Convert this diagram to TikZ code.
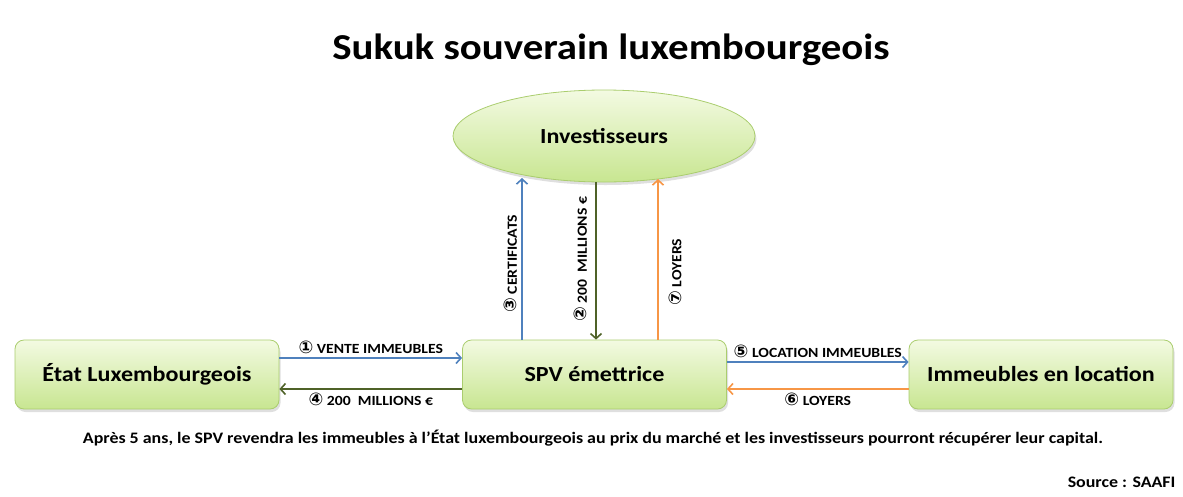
\documentclass[tikz,border=0pt]{standalone}
\usepackage{fontspec}
\setmainfont{Carlito}[FakeStretch=1.12]
\newfontfamily\symfont{DejaVu Sans}[Scale=1.25]
\usetikzlibrary{shapes.geometric,shadows,arrows.meta}
\definecolor{boxline}{RGB}{170,205,110}
\definecolor{boxtop}{RGB}{243,250,226}
\definecolor{boxbot}{RGB}{200,230,145}
\definecolor{flowblue}{RGB}{79,129,189}
\definecolor{flowolive}{RGB}{79,98,40}
\definecolor{floworange}{RGB}{247,150,70}
\tikzset{
	% Two node styles for the parties: rounded box and ellipse
	party box/.style={rectangle,rounded corners=9pt,draw=boxline,line width=0.8pt,
		top color=boxtop,bottom color=boxbot,minimum width=264pt,minimum height=69pt,
		drop shadow={shadow xshift=1.5pt,shadow yshift=-3pt,opacity=0.25},
		font=\fontsize{21.5}{26}\selectfont\bfseries},
	party ellipse/.style={ellipse,draw=boxline,line width=0.8pt,
		top color=boxtop,bottom color=boxbot,minimum width=302pt,minimum height=92pt,
		drop shadow={shadow xshift=1.5pt,shadow yshift=-3pt,opacity=0.25},
		font=\fontsize{21.5}{26}\selectfont\bfseries},
	flow/.style={-{Straight Barb[length=5pt,width=11pt]},line width=1.6pt},
	flow label/.style={font=\fontsize{14}{16}\selectfont\bfseries,inner sep=3pt}
}
\begin{document}
\begin{tikzpicture}[x=1pt,y=-1pt]
			% macro for the circled step numbers
			\newcommand{\stepnum}[1]{{\symfont #1}}
			\useasboundingbox (0,0) rectangle (1183,496);

			\node(title)[font=\fontsize{36.5}{40}\selectfont\bfseries] at (611,50) {Sukuk souverain luxembourgeois};

			\node(inv)[party ellipse] at (604,136) {Investisseurs};
			\node(etat)[party box] at (147,374.5) {État Luxembourgeois};
			\node(spv)[party box] at (594.5,374.5) {SPV émettrice};
			\node(imm)[party box] at (1041,374.5) {Immeubles en location};

			% ends of the vertical flows on the ellipse
			\coordinate(c3) at (522,178);
			\coordinate(c2) at (596,182);
			\coordinate(c7) at (658,179);

			\draw[flow,flowblue] ([yshift=16.5pt]etat.east) -- ([yshift=16.5pt]spv.west)
				node[midway,above,flow label,text=black]{\stepnum{①} VENTE IMMEUBLES};
			\draw[flow,flowolive] ([yshift=-14.5pt]spv.west) -- ([yshift=-14.5pt]etat.east)
				node[midway,below,flow label,text=black]{\stepnum{④} 200\ \ MILLIONS €};
			\draw[flow,flowblue] ([yshift=12.5pt]spv.east) -- ([yshift=12.5pt]imm.west)
				node[midway,above,flow label,text=black]{\stepnum{⑤} LOCATION IMMEUBLES};
			\draw[flow,floworange] ([yshift=-14.5pt]imm.west) -- ([yshift=-14.5pt]spv.east)
				node[midway,below,flow label,text=black]{\stepnum{⑥} LOYERS};

			\draw[flow,flowblue] (spv.north -| c3) -- (c3)
				node[pos=0.47,above,sloped,flow label,text=black,inner sep=4pt]{\stepnum{③} CERTIFICATS};
			\draw[flow,flowolive] (c2) -- (spv.north -| c2)
				node[pos=0.49,above,rotate=90,flow label,text=black,anchor=south,inner sep=8pt]{\stepnum{②} 200\ \ MILLIONS €};
			\draw[flow,floworange] (spv.north -| c7) -- (c7)
				node[pos=0.42,below,sloped,flow label,text=black,inner sep=10pt]{\stepnum{⑦} LOYERS};

			\node(note)[font=\fontsize{16}{19}\selectfont\bfseries] at (593,438)
				{Après 5 ans, le SPV revendra les immeubles à l’État luxembourgeois au prix du marché et les investisseurs pourront récupérer leur capital.};
			\node(src)[font=\fontsize{16}{19}\selectfont\bfseries,anchor=east] at (1179,482) {Source : SAAFI};
\end{tikzpicture}
\end{document}
